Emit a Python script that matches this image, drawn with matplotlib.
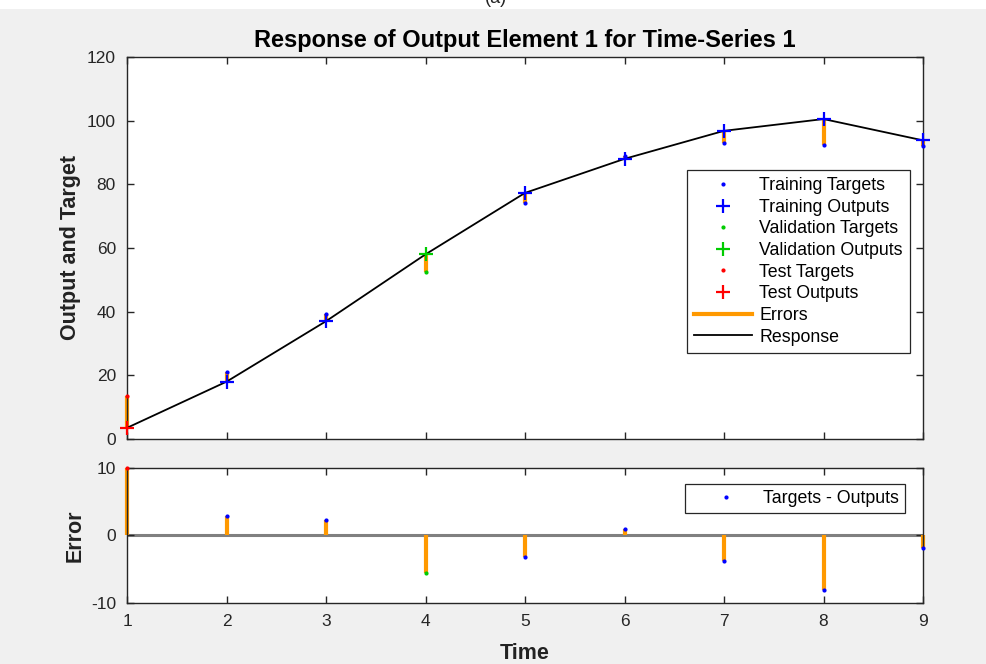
import matplotlib.pyplot as plt
from matplotlib.patches import Rectangle

plt.rcParams['font.family'] = ['Liberation Sans', 'DejaVu Sans']
plt.rcParams['axes.unicode_minus'] = False

# Time steps and network response
time = [1, 2, 3, 4, 5, 6, 7, 8, 9]
outputs = [3.5, 18.0, 37.0, 58.0, 77.3, 88.0, 96.8, 100.5, 93.8]
targets = [13.5, 20.9, 39.3, 52.4, 74.1, 88.9, 93.0, 92.4, 92.0]

# Which time step belongs to which data division
train_idx = [1, 2, 4, 5, 6, 7, 8]
val_idx = [3]
test_idx = [0]

errors = [t - o for t, o in zip(targets, outputs)]

orange = '#FF9900'
edge = '#262626'
bg = '#F0F0F0'

fig = plt.figure(figsize=(9.87, 6.64), dpi=100, facecolor=bg)
fig.patches.append(Rectangle((0, 1 - 9 / 664), 1, 9 / 664, transform=fig.transFigure,
                             facecolor='white', edgecolor='none', zorder=0))
fig.text(0.502, 1 - 3 / 664, '(a)', ha='center', va='baseline', fontsize=13, color='#222222')

ax1 = fig.add_axes([0.1287, 0.3389, 0.8065, 0.5753])
ax2 = fig.add_axes([0.1287, 0.0919, 0.8065, 0.2033])

for ax in (ax1, ax2):
    ax.set_xlim(1, 9)
    ax.set_xticks(time)
    for s in ax.spines.values():
        s.set_color(edge)
        s.set_linewidth(1.0)
    ax.tick_params(direction='in', top=True, right=True, length=5, width=1.0,
                   colors=edge, labelsize=12.5, labelcolor=edge, pad=8)

# Upper panel: errors, targets, outputs and response
for i in range(len(time)):
    ax1.plot([time[i], time[i]], [outputs[i], targets[i]], color=orange, lw=3,
             solid_capstyle='butt', zorder=2, clip_on=False)
ax1.plot(time, outputs, color='black', lw=1.3, zorder=3, clip_on=False)


def pick(vals, idx):
    return [vals[i] for i in idx]


groups = [('Training', train_idx, 'blue'), ('Validation', val_idx, '#00CC00'),
          ('Test', test_idx, 'red')]
for name, idx, c in groups:
    ax1.plot(pick(time, idx), pick(targets, idx), ls='none', marker='.', ms=4,
             color=c, zorder=4, label=name + ' Targets', clip_on=False)
    ax1.plot(pick(time, idx), pick(outputs, idx), ls='none', marker='+', ms=10.5,
             mew=1.6, color=c, zorder=5, label=name + ' Outputs', clip_on=False)

h, l = ax1.get_legend_handles_labels()
err_h = plt.Line2D([], [], color=orange, lw=3)
resp_h = plt.Line2D([], [], color='black', lw=1.3)
leg = ax1.legend(h + [err_h, resp_h], l + ['Errors', 'Response'], loc='upper right',
                 bbox_to_anchor=(0.9837, 0.704), borderaxespad=0, fontsize=12.8,
                 handlelength=3.3, handletextpad=0.4, labelspacing=0.26, borderpad=0.4,
                 fancybox=False, framealpha=1, edgecolor=edge)
leg.get_frame().set_linewidth(0.9)

ax1.set_ylim(0, 120)
ax1.set_yticks([0, 20, 40, 60, 80, 100, 120])
ax1.tick_params(labelbottom=False)
ax1.set_title('Response of Output Element 1 for Time-Series 1', fontsize=17,
              fontweight='bold', color='black', pad=7)
ax1.set_ylabel('Output and Target', fontsize=15.5, fontweight='bold', color='#222222',
               labelpad=4)

# Lower panel: error stems
ax2.axhline(0, color='#808080', lw=2.2, zorder=1)
for i in range(len(time)):
    ax2.plot([time[i], time[i]], [0, errors[i]], color=orange, lw=3,
             solid_capstyle='butt', zorder=2, clip_on=False)
for name, idx, c in groups:
    ax2.plot(pick(time, idx), pick(errors, idx), ls='none', marker='.', ms=4,
             color=c, zorder=4, clip_on=False,
             label='Targets - Outputs' if name == 'Training' else None)

leg2 = ax2.legend(loc='upper right', bbox_to_anchor=(0.977, 0.881), borderaxespad=0,
                  fontsize=12.8, handlelength=3.9, handletextpad=0.1, borderpad=0.35,
                  fancybox=False, framealpha=1, edgecolor=edge)
leg2.get_frame().set_linewidth(0.9)

ax2.set_ylim(-10, 10)
ax2.set_yticks([-10, 0, 10])
ax2.set_ylabel('Error', fontsize=15.5, fontweight='bold', color='#222222', labelpad=4)
ax2.set_xlabel('Time', fontsize=15.5, fontweight='bold', color='#222222', labelpad=10)

fig.savefig('out.png', dpi=100, facecolor=bg)
